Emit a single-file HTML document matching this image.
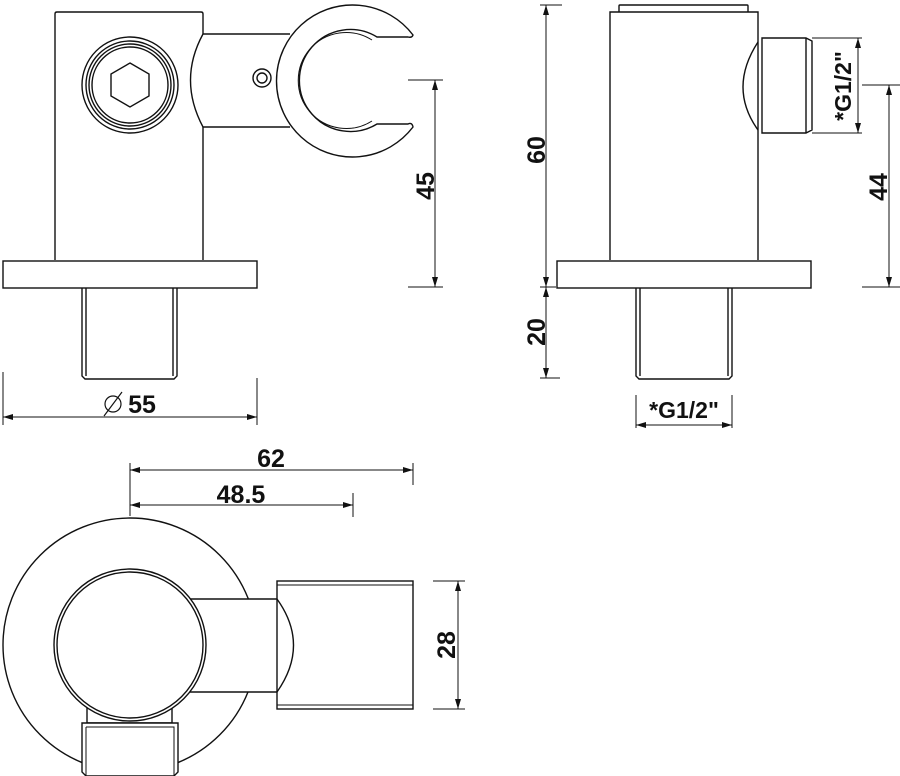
<!DOCTYPE html>
<html><head><meta charset="utf-8"><style>html,body{margin:0;padding:0;background:#fff}svg{display:block}</style></head><body>
<svg width="900" height="776" viewBox="0 0 900 776" xmlns="http://www.w3.org/2000/svg">
<defs>
<marker id="a" viewBox="0 0 10 6" refX="10" refY="3" markerWidth="10" markerHeight="6" orient="auto-start-reverse" markerUnits="userSpaceOnUse"><path d="M0,0 L10,3 L0,6 z" fill="#111"/></marker>
</defs>
<g fill="none" stroke="#111" stroke-width="1.4">
<!-- View 1 -->
<path d="M203,34 V14 Q203,12 201,12 H57 Q55,12 55,14 V260 M203,127 V260"/>
<rect x="3" y="261" width="254" height="27"/>
<path d="M82,288 V376 L85,379 H174 L177,376 V288 M86,288 V376 M173,288 V376"/>
<circle cx="130" cy="85" r="48"/><circle cx="130" cy="85" r="44"/><circle cx="130" cy="85" r="41"/><circle cx="130" cy="85" r="38"/>
<polygon points="130,63 149,74 149,96 130,107 111,96 111,74"/>
<path d="M203,34 H290 M203,127 H290 M203,34 Q178,80 203,127"/>
<circle cx="262" cy="78" r="9"/><circle cx="262" cy="78" r="5"/>
<path d="M413,35 A76,76 0 1 0 413,127 Q412,122 408,124 H377 A51,51 0 1 1 377,37 H408 Q412,38 413,35 Z"/>
<path d="M372,40 A48,48 0 1 0 372,121" stroke-width="1"/>
<!-- dims view 1 -->
<path d="M408,80 H443 M408,287 H443 M3,372 V425 M257,378 V425" stroke-width="1"/>
<line x1="435" y1="80" x2="435" y2="287" marker-start="url(#a)" marker-end="url(#a)" stroke-width="1"/>
<line x1="3" y1="417" x2="257" y2="417" marker-start="url(#a)" marker-end="url(#a)" stroke-width="1"/>
<circle cx="113" cy="404" r="8" stroke-width="1.2"/><line x1="104" y1="416" x2="122" y2="392" stroke-width="1.2"/>

<!-- View 2 -->
<path d="M619,12 V6 Q619,5 620,5 H747 Q748,5 748,6 V12"/>
<path d="M610,260 V12 H758 V260"/>
<rect x="557" y="261" width="254" height="27"/>
<path d="M636,288 V376 L639,379 H729 L732,376 V288 M640,288 V376 M728,288 V376"/>
<path d="M758,42 Q728,88 758,130"/>
<path d="M762,38 H806 L812,41 V130 L806,133 H762 Z M806,38 V133"/>
<path d="M540,5 H562 M540,287 H556 M540,378 H560 M812,38 H862 M812,133 H862 M862,85 H900 M862,287 H900 M636,395 V428 M732,395 V428" stroke-width="1"/>
<line x1="546" y1="5" x2="546" y2="287" marker-start="url(#a)" marker-end="url(#a)" stroke-width="1"/>
<line x1="546" y1="287" x2="546" y2="378" marker-start="url(#a)" marker-end="url(#a)" stroke-width="1"/>
<line x1="858" y1="38" x2="858" y2="133" marker-start="url(#a)" marker-end="url(#a)" stroke-width="1"/>
<line x1="889" y1="85" x2="889" y2="287" marker-start="url(#a)" marker-end="url(#a)" stroke-width="1"/>
<line x1="636" y1="425" x2="732" y2="425" marker-start="url(#a)" marker-end="url(#a)" stroke-width="1"/>

<!-- View 3 -->
<circle cx="130" cy="645" r="127" fill="#fff"/>
<path d="M87,690 V723 H172 V690 Z" fill="#fff"/>
<path d="M82,723 H178 V772 L174,776 H86 L82,772 Z" fill="#fff"/>
<path d="M86,727 H174 V776 M86,727 V776" stroke-width="1"/>
<path d="M180,599 H277 V692 H180 Z" fill="#fff" stroke="none"/>
<path d="M180,599 H277 M180,692 H277"/>
<circle cx="130" cy="645" r="76" fill="#fff"/><circle cx="130" cy="645" r="73"/>
<rect x="277" y="581" width="136" height="128" fill="#fff"/>
<path d="M277,599 Q310,645 277,692"/>
<path d="M277,585 H413 M277,705 H413" stroke-width="1"/>
<path d="M130,463 V516 M413,463 V485 M353,493 V517 M433,581 H465 M433,709 H465" stroke-width="1"/>
<line x1="130" y1="470" x2="413" y2="470" marker-start="url(#a)" marker-end="url(#a)" stroke-width="1"/>
<line x1="130" y1="505" x2="353" y2="505" marker-start="url(#a)" marker-end="url(#a)" stroke-width="1"/>
<line x1="458" y1="581" x2="458" y2="709" marker-start="url(#a)" marker-end="url(#a)" stroke-width="1"/>
</g>
<g font-family="Liberation Sans, sans-serif" font-weight="bold" font-size="25" fill="#111" text-anchor="middle">
<text x="0" y="0" transform="translate(434,186) rotate(-90)">45</text>
<text x="142" y="413">55</text>
<text x="0" y="0" transform="translate(545,150) rotate(-90)">60</text>
<text x="0" y="0" transform="translate(545,332) rotate(-90)">20</text>
<text x="0" y="0" transform="translate(851,86) rotate(-90)" font-size="23">*G1/2"</text>
<text x="0" y="0" transform="translate(887,187) rotate(-90)">44</text>
<text x="684" y="418" font-size="23">*G1/2"</text>
<text x="271" y="467">62</text>
<text x="241" y="503">48.5</text>
<text x="0" y="0" transform="translate(455,645) rotate(-90)">28</text>
</g>
</svg>
</body></html>
